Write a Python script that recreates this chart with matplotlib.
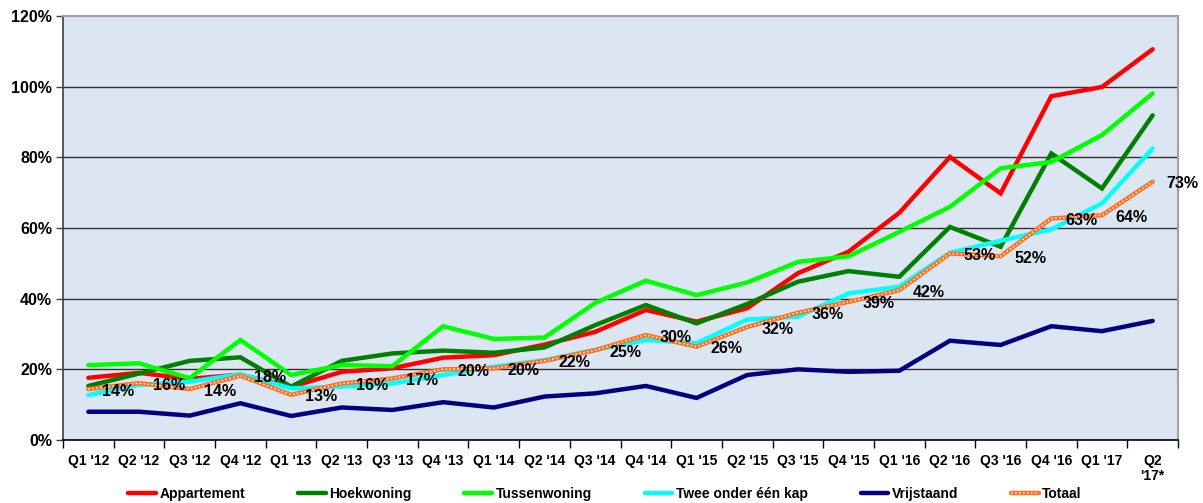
import matplotlib
matplotlib.use("Agg")
import matplotlib.pyplot as plt
import numpy as np
from matplotlib.legend_handler import HandlerTuple
from matplotlib.ticker import FixedLocator, FuncFormatter

categories = ["Q1 '12", "Q2 '12", "Q3 '12", "Q4 '12", "Q1 '13", "Q2 '13", "Q3 '13", "Q4 '13",
              "Q1 '14", "Q2 '14", "Q3 '14", "Q4 '14", "Q1 '15", "Q2 '15", "Q3 '15", "Q4 '15",
              "Q1 '16", "Q2 '16", "Q3 '16", "Q4 '16", "Q1 '17", "Q2\n'17*"]

appartement = [17.6, 19.0, 17.3, 18.5, 15.0, 19.3, 20.3, 23.3, 24.0, 27.0, 30.6, 36.8,
               33.5, 37.3, 47.2, 53.3, 64.3, 80.1, 69.8, 97.3, 99.9, 110.6]
hoekwoning = [15.3, 18.8, 22.4, 23.4, 15.1, 22.4, 24.5, 25.3, 24.7, 26.2, 32.5, 38.2,
              33.0, 38.5, 44.8, 47.8, 46.2, 60.3, 54.7, 81.1, 71.2, 91.9]
tussenwoning = [21.2, 21.7, 17.5, 28.3, 18.4, 21.2, 20.9, 32.2, 28.6, 29.0, 38.8, 45.1,
                41.0, 44.6, 50.4, 52.0, 58.9, 66.0, 76.9, 78.7, 86.3, 98.1]
twee_onder_een_kap = [12.7, 15.6, 16.5, 18.6, 14.6, 15.1, 16.0, 18.4, 20.7, 22.6, 25.5, 28.3,
                      27.4, 34.1, 34.9, 41.5, 43.4, 53.0, 56.4, 59.6, 67.0, 82.5]
vrijstaand = [8.0, 8.0, 6.9, 10.4, 6.8, 9.2, 8.5, 10.7, 9.2, 12.3, 13.2, 15.3,
              11.9, 18.4, 20.0, 19.3, 19.6, 28.1, 26.9, 32.2, 30.8, 33.7]
totaal = [14.4, 16.1, 14.4, 18.2, 12.8, 16.0, 17.4, 20.0, 20.3, 22.4, 25.4, 29.7,
          26.4, 32.0, 36.0, 39.1, 42.4, 52.8, 52.0, 62.7, 63.6, 73.1]

series_names = ["Appartement", "Hoekwoning", "Tussenwoning", "Twee onder één kap", "Vrijstaand", "Totaal"]
y_ticks = [0, 20, 40, 60, 80, 100, 120]

plt.rcParams['font.family'] = ['Liberation Sans', 'DejaVu Sans']
plt.rcParams['font.weight'] = 'bold'

fig = plt.figure(figsize=(12.03, 5.03), dpi=100)
W, H = 1203, 503
ax = fig.add_axes([63 / W, (H - 440) / H, (1178 - 63) / W, (440 - 16) / H])
ax.set_facecolor('#DCE6F2')

x = np.arange(len(categories))
lw = 3.2
colors = ['#FF0000', '#008000', '#00FF00', '#00FFFF', '#000080']
data = [appartement, hoekwoning, tussenwoning, twee_onder_een_kap, vrijstaand]
handles = []
for name, vals, c in zip(series_names[:5], data, colors):
    ln, = ax.plot(x, vals, color=c, lw=lw, solid_joinstyle='miter', solid_capstyle='round', zorder=3)
    handles.append(ln)

orange = '#FF7020'
ln_o, = ax.plot(x, totaal, color=orange, lw=lw, zorder=4, solid_capstyle='round')
ln_w, = ax.plot(x, totaal, color='white', lw=1.1, ls=(0, (1, 1.6)), zorder=5)
handles.append((ln_o, ln_w))

for xi, v in zip(x, totaal):
    ax.annotate(f"{v:.0f}%", (xi, v), xytext=(10, -1.5), textcoords='offset points',
                ha='left', va='center', fontsize=11.5, fontweight='bold', color='black',
                zorder=6, annotation_clip=False)

ax.set_xlim(-0.5, len(categories) - 0.5)
ax.set_ylim(0, 120)
ax.set_yticks(y_ticks)
ax.yaxis.set_major_formatter(FuncFormatter(lambda v, p: f"{v:.0f}%"))
ax.tick_params(axis='y', labelsize=11.5, length=5, width=1, color='#404040', direction='out', pad=3)
for t in y_ticks[1:-1]:
    ax.axhline(t, color='#303030', lw=1.0, zorder=1)

ax.set_xticks(x)
ax.set_xticklabels(categories, fontsize=10, fontweight='bold', linespacing=1.1)
ax.xaxis.set_minor_locator(FixedLocator(np.arange(-0.5, len(categories) + 0.5, 1)))
ax.tick_params(axis='x', which='major', length=0, pad=10)
ax.tick_params(axis='x', which='minor', length=6, width=1, color='black', direction='out')

ax.spines['left'].set_color('#404040')
ax.spines['left'].set_linewidth(1.2)
ax.spines['bottom'].set_color('black')
ax.spines['bottom'].set_linewidth(1.2)
ax.spines['top'].set_color('#A0A0A0')
ax.spines['right'].set_color('#A0A0A0')
ax.spines['top'].set_linewidth(1.5)
ax.spines['right'].set_linewidth(1.5)

leg = fig.legend(handles, series_names, loc='center', bbox_to_anchor=(605 / W, 9 / H),
                 ncol=6, frameon=False, fontsize=10, handlelength=2.0, handletextpad=0.25,
                 columnspacing=3.8, handler_map={tuple: HandlerTuple(ndivide=1, pad=0)})
for t in leg.get_texts():
    t.set_fontweight('bold')

fig.savefig('out.png', dpi=100)
